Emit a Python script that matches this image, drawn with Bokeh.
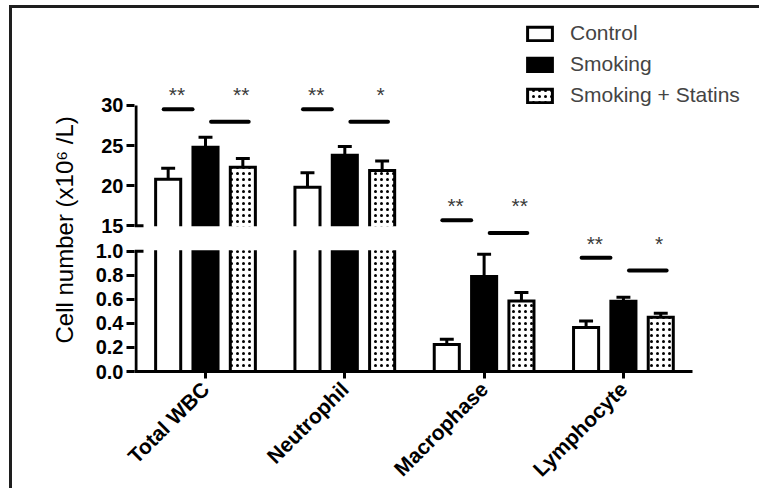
import math
from bokeh.plotting import figure
from bokeh.models import (Range1d, FixedTicker, Legend, LegendItem, InlineStyleSheet,
                          ColumnDataSource, Title)
from bokeh.core.properties import value
from bokeh.embed import file_html
from bokeh.resources import INLINE

# ---------------- data ----------------
categories = ["Total WBC", "Neutrophil", "Macrophase", "Lymphocyte"]
groups = ["Control", "Smoking", "Smoking + Statins"]
control = [20.8, 19.8, 0.225, 0.365]
smoking = [24.8, 23.8, 0.79, 0.583]
statins = [22.3, 21.9, 0.586, 0.451]
control_err = [1.37, 1.82, 0.042, 0.054]
smoking_err = [1.24, 1.08, 0.185, 0.033]
statins_err = [1.08, 1.19, 0.071, 0.033]
sig_left = ["**", "**", "**", "**"]    # Control vs Smoking
sig_right = ["**", "*", "**", "*"]     # Smoking vs Smoking + Statins
low_ticks = [0.0, 0.2, 0.4, 0.6, 0.8, 1.0]
low_labels = ["0.0", "0.2", "0.4", "0.6", "0.8", "1.0"]
high_ticks = [15, 20, 25, 30]
high_labels = ["15", "20", "25", "30"]
y_title = "Cell number (x10\u2076 /L)"

# ---------------- broken axis mapping ----------------
LOW_END = 1.0
TOP_START, TOP_END = 15.0, 30.0
TOP_BASE = 1.2107
TOP_SPAN = 1.0


def to_plot(v):
    if v <= LOW_END:
        return v
    return TOP_BASE + (v - TOP_START) / (TOP_END - TOP_START) * TOP_SPAN


PX_X = 139.3
X0 = -0.5097
X1 = 3.984
Y1 = 2.975
BAR_W = 0.18
OFFS = [-0.268, 0.0, 0.268]
FONT = "Liberation Sans"

p = figure(width=750, height=483, output_backend="svg", toolbar_location=None,
           x_range=Range1d(X0, X1), y_range=Range1d(0, Y1),
           min_border_left=122, min_border_right=2, min_border_top=5, min_border_bottom=118)
p.grid.visible = False
p.outline_line_color = None
p.background_fill_color = "white"
p.border_fill_color = "white"
p.stylesheets = [InlineStyleSheet(css=":host { margin-top: 5px; margin-left: 9px; "
                                      "border-top: 3px solid #1e1e1e; border-left: 3px solid #1e1e1e; }")]

xs = list(range(len(categories)))
series = [control, smoking, statins]
errs = [control_err, smoking_err, statins_err]
styles = [
    dict(fill_color="white", line_color="black"),
    dict(fill_color="black", line_color="black"),
    dict(fill_color="white", line_color="black", hatch_pattern="dot", hatch_color="black",
         hatch_scale=6, hatch_weight=1.9),
]

renderers = []
for gi, (vals, ev, st) in enumerate(zip(series, errs, styles)):
    cx = [x + OFFS[gi] for x in xs]
    src = ColumnDataSource(dict(
        left=[c - BAR_W / 2 for c in cx], right=[c + BAR_W / 2 for c in cx],
        top=[to_plot(v) for v in vals], bottom=[0] * len(vals)))
    r = p.quad(left="left", right="right", top="top", bottom="bottom", source=src,
               line_width=3, line_join="miter", **st)
    renderers.append(r)

# gap over broken bars
for gi, vals in enumerate(series):
    for x, v in zip(xs, vals):
        if v > LOW_END:
            c = x + OFFS[gi]
            p.quad(left=c - BAR_W / 2 - 0.03, right=c + BAR_W / 2 + 0.03,
                   bottom=LOW_END + 0.008, top=TOP_BASE - 0.003,
                   fill_color="white", line_color=None)

# error bars (upper only)
for gi, (vals, ev) in enumerate(zip(series, errs)):
    cx = [x + OFFS[gi] for x in xs]
    tops = [to_plot(v) for v in vals]
    etops = [to_plot(v + e) for v, e in zip(vals, ev)]
    p.segment(x0=cx, y0=tops, x1=cx, y1=etops, line_color="black", line_width=3)
    p.segment(x0=[c - 0.05 for c in cx], y0=etops, x1=[c + 0.05 for c in cx], y1=etops,
              line_color="black", line_width=3)

# significance annotations
sig_level = [2.180, 2.180, 1.256, 0.945]
p.segment(x0=[x - 0.30 for x in xs], y0=sig_level, x1=[x - 0.093 for x in xs], y1=sig_level,
          line_color="black", line_width=4, line_cap="round")
lvl2 = [s - 0.105 for s in sig_level]
p.segment(x0=[x + 0.04 for x in xs], y0=lvl2, x1=[x + 0.31 for x in xs], y1=lvl2,
          line_color="black", line_width=4, line_cap="round")
star_y = [s + 0.12 for s in sig_level]
p.text(x=[x - 0.205 for x in xs], y=star_y, text=sig_left, text_align="center",
       text_baseline="alphabetic", text_font=value(FONT), text_font_size="21px", text_color="#3a3a3a")
p.text(x=[x + 0.256 for x in xs], y=star_y, text=sig_right, text_align="center",
       text_baseline="alphabetic", text_font=value(FONT), text_font_size="21px", text_color="#3a3a3a")

# broken y-axis line
ax_x = X0 + 1.5 / PX_X
p.segment(x0=[ax_x, ax_x], y0=[0, TOP_BASE], x1=[ax_x, ax_x], y1=[LOW_END, to_plot(TOP_END)],
          line_color="black", line_width=3)
p.segment(x0=[X0, X0], y0=[LOW_END, TOP_BASE], x1=[X0 + 9 / PX_X] * 2, y1=[LOW_END, TOP_BASE],
          line_color="black", line_width=3)

# y axis ticks & labels
yt = [round(to_plot(t), 6) for t in low_ticks] + [round(to_plot(t), 6) for t in high_ticks]
ylab = low_labels + high_labels
yax = p.yaxis[0]
yax.ticker = FixedTicker(ticks=yt)
yax.major_label_overrides = {t: l for t, l in zip(yt, ylab)}
yax.axis_line_color = None
yax.major_tick_line_width = 3
yax.major_tick_out = 8
yax.major_tick_in = 0
yax.minor_tick_line_color = None
yax.major_label_text_font = FONT
yax.major_label_text_font_style = "bold"
yax.major_label_text_font_size = "20px"
yax.major_label_text_color = "black"
yax.major_label_standoff = 3

p.add_layout(Title(text=y_title, align="left", offset=28, standoff=30,
                   text_font=FONT, text_font_style="normal", text_font_size="24px",
                   text_color="black"), "left")

xax = p.xaxis[0]
xax.ticker = FixedTicker(ticks=xs)
xax.major_label_overrides = {x: c for x, c in zip(xs, categories)}
xax.major_label_orientation = math.pi / 4
xax.bounds = (X0, 3.496)
xax.axis_line_width = 3
xax.axis_line_color = "black"
xax.major_tick_line_width = 3
xax.major_tick_out = 7
xax.major_tick_in = 0
xax.minor_tick_line_color = None
xax.major_label_text_font = FONT
xax.major_label_text_font_style = "bold"
xax.major_label_text_font_size = "21px"
xax.major_label_text_color = "black"
xax.major_label_standoff = 7

legend = Legend(items=[LegendItem(label=g, renderers=[r]) for g, r in zip(groups, renderers)],
                location=(390, 264), glyph_width=31, glyph_height=17, spacing=7, padding=0, margin=0,
                label_standoff=15, label_text_font=FONT, label_text_font_size="21px",
                border_line_color=None, background_fill_alpha=0)
p.add_layout(legend)

open("out.html", "w").write(file_html(p, INLINE))
